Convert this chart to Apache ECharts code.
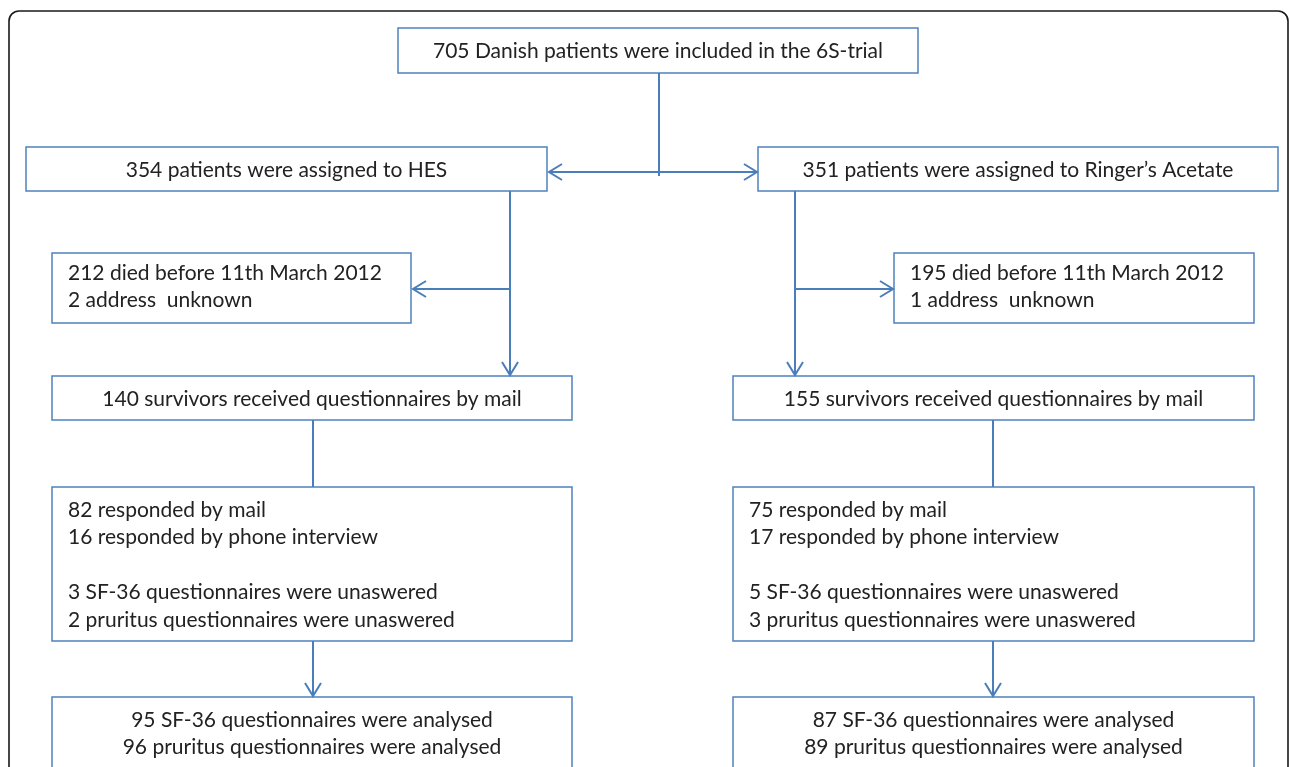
<!DOCTYPE html>
<html><head><meta charset="utf-8">
<script src="https://cdn.jsdelivr.net/npm/echarts@6/dist/echarts.min.js"></script>
<style>html,body{margin:0;padding:0;background:#fff}#c{width:1290px;height:767px}</style>
</head><body><div id="c"></div>
<script>
// ---- content ----
const boxTexts = [
  "705 Danish patients were included in the 6S-trial",
  "354 patients were assigned to HES",
  "351 patients were assigned to Ringer\u2019s Acetate",
  "212 died before 11th March 2012\n2 address  unknown",
  "195 died before 11th March 2012\n1 address  unknown",
  "140 survivors received questionnaires by mail",
  "155 survivors received questionnaires by mail",
  "82 responded by mail\n16 responded by phone interview\n\n3 SF-36 questionnaires were unaswered\n2 pruritus questionnaires were unaswered",
  "75 responded by mail\n17 responded by phone interview\n\n5 SF-36 questionnaires were unaswered\n3 pruritus questionnaires were unaswered",
  "95 SF-36 questionnaires were analysed\n96 pruritus questionnaires were analysed",
  "87 SF-36 questionnaires were analysed\n89 pruritus questionnaires were analysed"
];
const boxAlign = ["center","center","center","left","left","center","center","left","left","center-top","center-top"];

// ---- layout (pixel-space axes) ----
const boxLayout = [
  [398, 28, 520, 45],
  [26, 147, 521, 44],
  [758, 147, 520, 44],
  [52, 253, 359, 70],
  [894, 253, 360, 70],
  [52, 376, 520, 44],
  [733, 376, 521, 44],
  [52, 487, 520, 154],
  [733, 487, 521, 154],
  [52, 697, 520, 110],
  [733, 697, 521, 110]
];
// per-box text top padding and line height
const textPad = [0, 0, 0, 7, 7, 0, 0, 9, 9, 10, 10];
const textLine = [27, 27, 27, 27, 27, 27, 27, 27.5, 27.5, 27, 27];
const connectors = [
  {pts: [[659, 73], [659, 176]], arrow: false},
  {pts: [[659, 172], [549, 172]], arrow: true},
  {pts: [[659, 172], [757, 172]], arrow: true},
  {pts: [[510, 191], [510, 375]], arrow: true},
  {pts: [[510, 289], [413, 289]], arrow: true},
  {pts: [[795, 191], [795, 375]], arrow: true},
  {pts: [[795, 289], [893, 289]], arrow: true},
  {pts: [[313, 420], [313, 487]], arrow: false},
  {pts: [[313, 641], [313, 696]], arrow: true},
  {pts: [[993, 420], [993, 487]], arrow: false},
  {pts: [[993, 641], [993, 696]], arrow: true}
];
const frame = [9, 11, 1279, 820];

const FONT = '21px Lato, "Open Sans", sans-serif';
const TEXT_COLOR = '#222222';
const BOX_COLOR = '#4f81bd';
const LINE_COLOR = '#4a7ebb';

const chart = echarts.init(document.getElementById('c'), null, {renderer: 'canvas'});

function rectFrom(api, x, y, w, h) {
  const p0 = api.coord([x, y]);
  const p1 = api.coord([x + w, y + h]);
  return {x: p0[0], y: p0[1], width: p1[0] - p0[0], height: p1[1] - p0[1]};
}

const option = {
  animation: false,
  grid: {left: 0, right: 0, top: 0, bottom: 0},
  xAxis: {type: 'value', min: 0, max: 1290, show: false},
  yAxis: {type: 'value', min: 0, max: 767, inverse: true, show: false},
  series: [
    {
      type: 'custom', silent: true, clip: false,
      data: [frame],
      renderItem: function (params, api) {
        const r = rectFrom(api, api.value(0), api.value(1), api.value(2), api.value(3));
        return {type: 'rect', shape: Object.assign(r, {r: 10}),
          style: {fill: 'none', stroke: '#1a1a1a', lineWidth: 1.6}};
      }
    },
    {
      type: 'custom', silent: true, clip: false,
      data: boxLayout.map((b, i) => b.concat([i])),
      renderItem: function (params, api) {
        const i = api.value(4);
        const r = rectFrom(api, api.value(0), api.value(1), api.value(2), api.value(3));
        const align = boxAlign[i];
        let tx, ty, ta, tva;
        if (align === 'center') {
          tx = r.x + r.width / 2; ty = r.y + r.height / 2 + 1; ta = 'center'; tva = 'middle';
        } else if (align === 'center-top') {
          tx = r.x + r.width / 2; ty = r.y + textPad[i]; ta = 'center'; tva = 'top';
        } else {
          tx = r.x + 16; ty = r.y + textPad[i]; ta = 'left'; tva = 'top';
        }
        return {
          type: 'group',
          children: [
            {type: 'rect', shape: r, style: {fill: '#fff', stroke: BOX_COLOR, lineWidth: 1.5}},
            {type: 'text', style: {text: boxTexts[i], x: tx, y: ty, align: ta, verticalAlign: tva,
              font: FONT, fill: TEXT_COLOR, lineHeight: textLine[i]}}
          ]
        };
      }
    },
    {
      type: 'custom', silent: true, clip: false,
      data: connectors.map((c, i) => [c.pts[0][0], c.pts[0][1], i]),
      renderItem: function (params, api) {
        const c = connectors[api.value(2)];
        const pts = c.pts.map(p => api.coord(p));
        const children = [{type: 'polyline', shape: {points: pts},
          style: {fill: 'none', stroke: LINE_COLOR, lineWidth: 2}}];
        if (c.arrow) {
          const a = pts[pts.length - 2], b = pts[pts.length - 1];
          const dx = b[0] - a[0], dy = b[1] - a[1];
          const len = Math.hypot(dx, dy);
          const ux = dx / len, uy = dy / len;
          const L = 13, W = 8;
          children.push({type: 'polyline', shape: {points: [
            [b[0] - ux * L - uy * W, b[1] - uy * L + ux * W],
            [b[0], b[1]],
            [b[0] - ux * L + uy * W, b[1] - uy * L - ux * W]
          ]}, style: {fill: 'none', stroke: LINE_COLOR, lineWidth: 2}});
        }
        return {type: 'group', children: children};
      }
    }
  ]
};
chart.setOption(option);
</script>
</body></html>
